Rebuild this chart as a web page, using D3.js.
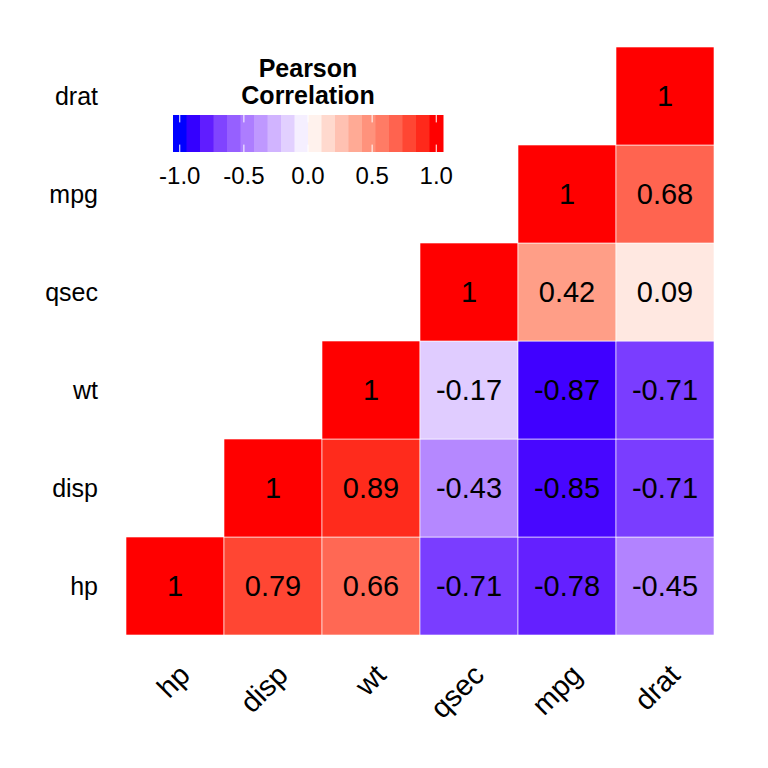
<!DOCTYPE html>
<html><head><meta charset="utf-8">
<script src="https://cdn.jsdelivr.net/npm/d3@7"></script>
<style>body{margin:0;background:#fff;} text{font-family:"Liberation Sans",Arial,sans-serif;}</style>
</head><body>
<svg id="c" width="768" height="768"></svg>
<script>
const vars = ["hp","disp","wt","qsec","mpg","drat"];
const rowHp   = [1, 0.79, 0.66, -0.71, -0.78, -0.45];
const rowDisp = [null, 1, 0.89, -0.43, -0.85, -0.71];
const rowWt   = [null, null, 1, -0.17, -0.87, -0.71];
const rowQsec = [null, null, null, 1, 0.42, 0.09];
const rowMpg  = [null, null, null, null, 1, 0.68];
const rowDrat = [null, null, null, null, null, 1];
const legendTicks = [-1.0, -0.5, 0.0, 0.5, 1.0];
const legendTitle = ["Pearson", "Correlation"];
// colour stops of the diverging fill gradient (blue - white - red)
const colorStops = [-1, -0.87, -0.78, -0.71, -0.45, -0.17, 0, 0.09, 0.42, 0.68, 0.79, 0.89, 1];
const colorValues = ["#0000FF","#4000FF","#6420FF","#7A3DFF","#B283FF","#E0CCFF","#FFFFFF",
                     "#FFE8E1","#FF9E87","#FF6450","#FF4633","#FF2B1C","#FF0000"];

const rows = [rowHp, rowDisp, rowWt, rowQsec, rowMpg, rowDrat];
const cells = [];
rows.forEach((r, i) => r.forEach((v, j) => { if (v !== null) cells.push({x: vars[j], y: vars[i], v}); }));

const svg = d3.select("#c");
const x = d3.scaleBand().domain(vars).range([126, 714]);
const y = d3.scaleBand().domain(vars).range([635, 47]);
const color = d3.scaleLinear().domain(colorStops).range(colorValues).interpolate(d3.interpolateRgb).clamp(true);

svg.append("g").selectAll("rect").data(cells).join("rect")
  .attr("x", d => x(d.x)).attr("y", d => y(d.y))
  .attr("width", x.bandwidth()).attr("height", y.bandwidth())
  .attr("fill", d => color(d.v)).attr("stroke", "#fff").attr("stroke-width", 0.6);

svg.append("g").selectAll("text").data(cells).join("text")
  .attr("x", d => x(d.x) + x.bandwidth()/2).attr("y", d => y(d.y) + y.bandwidth()/2)
  .attr("text-anchor", "middle").attr("dy", "0.36em")
  .attr("font-size", 29).attr("fill", "#000")
  .text(d => d.v === 1 ? "1" : String(d.v));

// y axis labels
svg.append("g").selectAll("text").data(vars).join("text")
  .attr("x", 98).attr("y", d => y(d) + y.bandwidth()/2)
  .attr("text-anchor", "end").attr("dy", "0.36em")
  .attr("font-size", 25).attr("fill", "#000").text(d => d);

// x axis labels
svg.append("g").selectAll("text").data(vars).join("text")
  .attr("transform", d => `translate(${x(d) + x.bandwidth()/2 + 2},${662}) rotate(-45)`)
  .attr("text-anchor", "end").attr("dy", "0.72em")
  .attr("font-size", 29).attr("fill", "#000").text(d => d);

// legend
const nbin = 20;
const lx0 = 173, lx1 = 443, ly0 = 115, ly1 = 152;
const bw = (lx1 - lx0) / nbin;
const bins = d3.range(nbin).map(i => -1 + i * 2 / (nbin - 1));
const lg = svg.append("g");
lg.selectAll("rect").data(bins).join("rect")
  .attr("x", (d, i) => lx0 + i * bw).attr("y", ly0)
  .attr("width", bw + 0.5).attr("height", ly1 - ly0)
  .attr("fill", d => color(d));
const ls = d3.scaleLinear().domain([-1, 1]).range([lx0 + bw/2, lx1 - bw/2]);
const th = (ly1 - ly0) / 5;
legendTicks.forEach(t => {
  lg.append("line").attr("x1", ls(t)).attr("x2", ls(t)).attr("y1", ly0).attr("y2", ly0 + th).attr("stroke", "#fff").attr("stroke-width", 1);
  lg.append("line").attr("x1", ls(t)).attr("x2", ls(t)).attr("y1", ly1 - th).attr("y2", ly1).attr("stroke", "#fff").attr("stroke-width", 1);
});
lg.selectAll("text.tick").data(legendTicks).join("text").attr("class", "tick")
  .attr("x", d => ls(d)).attr("y", 184).attr("text-anchor", "middle")
  .attr("font-size", 24).attr("fill", "#000").text(d => d3.format(".1f")(d).replace("−", "-"));
lg.selectAll("text.title").data(legendTitle).join("text").attr("class", "title")
  .attr("x", 308).attr("y", (d, i) => 77 + i * 27).attr("text-anchor", "middle")
  .attr("font-size", 25).attr("font-weight", "bold").attr("fill", "#000").text(d => d);
</script>
</body></html>
